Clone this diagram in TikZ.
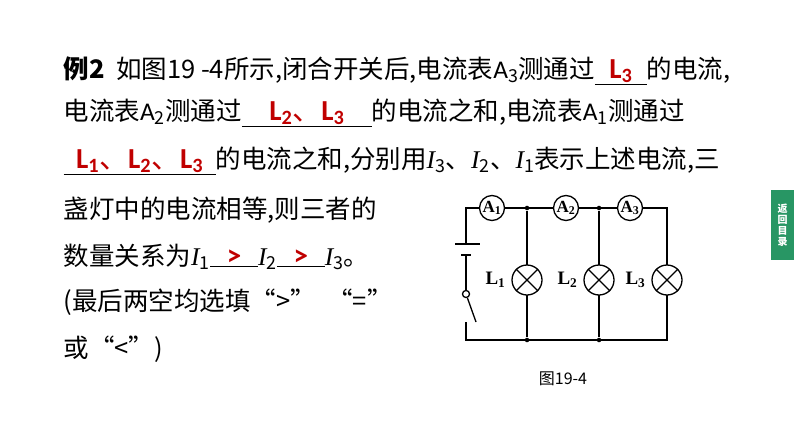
\documentclass[tikz,border=0pt]{standalone}
\usepackage{fontspec}
\setmainfont{Noto Sans CJK SC}
\newfontfamily\latinfont{Carlito}
\newfontfamily\curfont{Liberation Serif}
\newfontfamily\figfont{Liberation Serif}
\definecolor{ansred}{RGB}{192,0,0}
\definecolor{tabgreen}{RGB}{40,150,100}
\newcommand{\blank}[2]{\underline{\makebox[#1][c]{\color{ansred}\bfseries\latinfont\fontsize{29}{29}\selectfont #2}}}
\newcommand{\dun}{{\rmfamily\mdseries 、}}
\newcommand{\cur}[1]{{\curfont\itshape I}\textsubscript{#1}}
\newcommand{\Asub}[1]{{\latinfont A}\textsubscript{#1}}
\usetikzlibrary{positioning}
\begin{document}
\begin{tikzpicture}[x=1pt,y=-1pt, line width=1.3pt,
  txt/.style={anchor=base west, inner sep=0pt, font=\fontsize{25.5}{28}\selectfont},
  meter/.style={circle, draw, minimum size=25pt, inner sep=0pt, fill=white, font=\figfont\fontsize{17}{17}\selectfont\bfseries},
  lamp/.style={circle, draw, minimum size=30pt, inner sep=0pt, fill=white},
  lab/.style={font=\figfont\fontsize{19}{19}\selectfont\bfseries},
  dot/.style={circle, fill, inner sep=1.6pt}]
\useasboundingbox (0,0) rectangle (794,447);
% question text
\node[txt] (t1) at (63,78) {{\bfseries 例2}\ \ 如图19 -4所示,闭合开关后,电流表\Asub{3}测通过\blank{52pt}{L\textsubscript{3}}的电流,};
\node[txt] (t2) at (63,120) {电流表\Asub{2}测通过\blank{130pt}{L\textsubscript{2}\dun L\textsubscript{3}}的电流之和,电流表\Asub{1}测通过};
\node[txt] (t3) at (63,168) {\blank{152pt}{L\textsubscript{1}\dun L\textsubscript{2}\dun L\textsubscript{3}}的电流之和,分别用\cur{3}、\cur{2}、\cur{1}表示上述电流,三};
\node[txt] (t4) at (63,218) {盏灯中的电流相等,则三者的};
\node[txt] (t5) at (63,265) {数量关系为\cur{1}\blank{48pt}{>}\cur{2}\blank{48pt}{>}\cur{3}。};
\node[txt] (t6) at (63,310) {(最后两空均选填“>”\ \ “=”};
\node[txt] (t7) at (63,357) {或“<”)};
% circuit
\coordinate (tl) at (466,208);
\coordinate (tr) at (667,208);
\coordinate (bl) at (466,340);
\coordinate (br) at (667,340);
\node[dot] (j1) at (527,208) {};
\node[dot] (j2) at (599,208) {};
\node[dot] (k1) at (527,340) {};
\node[dot] (k2) at (599,340) {};
\coordinate (bp) at (466,244);
\coordinate (bn) at (466,255);
\node[circle, draw, fill=white, inner sep=2.5pt] (sw) at (466,294) {};
\coordinate (sb) at (466,322);
\coordinate (se) at (476,322);
\draw (bp) -- (tl) -- (tr) -- (br) -- (bl) -- (sb);
\draw (bn) -- (sw);
\draw (sw) -- (se);
\draw (455,244) -- (480,244);
\draw (461,255) -- (471,255);
\draw (j1) -- (k1);
\draw (j2) -- (k2);
\node[meter] (a1) at (492,208) {A\textsubscript{1}};
\node[meter] (a2) at (566,208) {A\textsubscript{2}};
\node[meter] (a3) at (630,208) {A\textsubscript{3}};
\foreach \x/\n in {527/1,599/2,667/3}{
  \node[lamp] (l\n) at (\x,280) {};
  \draw (l\n.north west) -- (l\n.south east) (l\n.north east) -- (l\n.south west);
  \node[lab, left=2pt of l\n] (n\n) {L\textsubscript{\n}};
}
\node[font=\fontsize{16}{16}\selectfont] (cap) at (563,379) {图19-4};
% side tab
\fill[tabgreen] (771,190) rectangle (794,260);
\node[text=white, font=\fontsize{10}{11}\selectfont\bfseries, align=center] (tab) at (782.5,225) {返\\回\\目\\录};
\end{tikzpicture}
\end{document}
